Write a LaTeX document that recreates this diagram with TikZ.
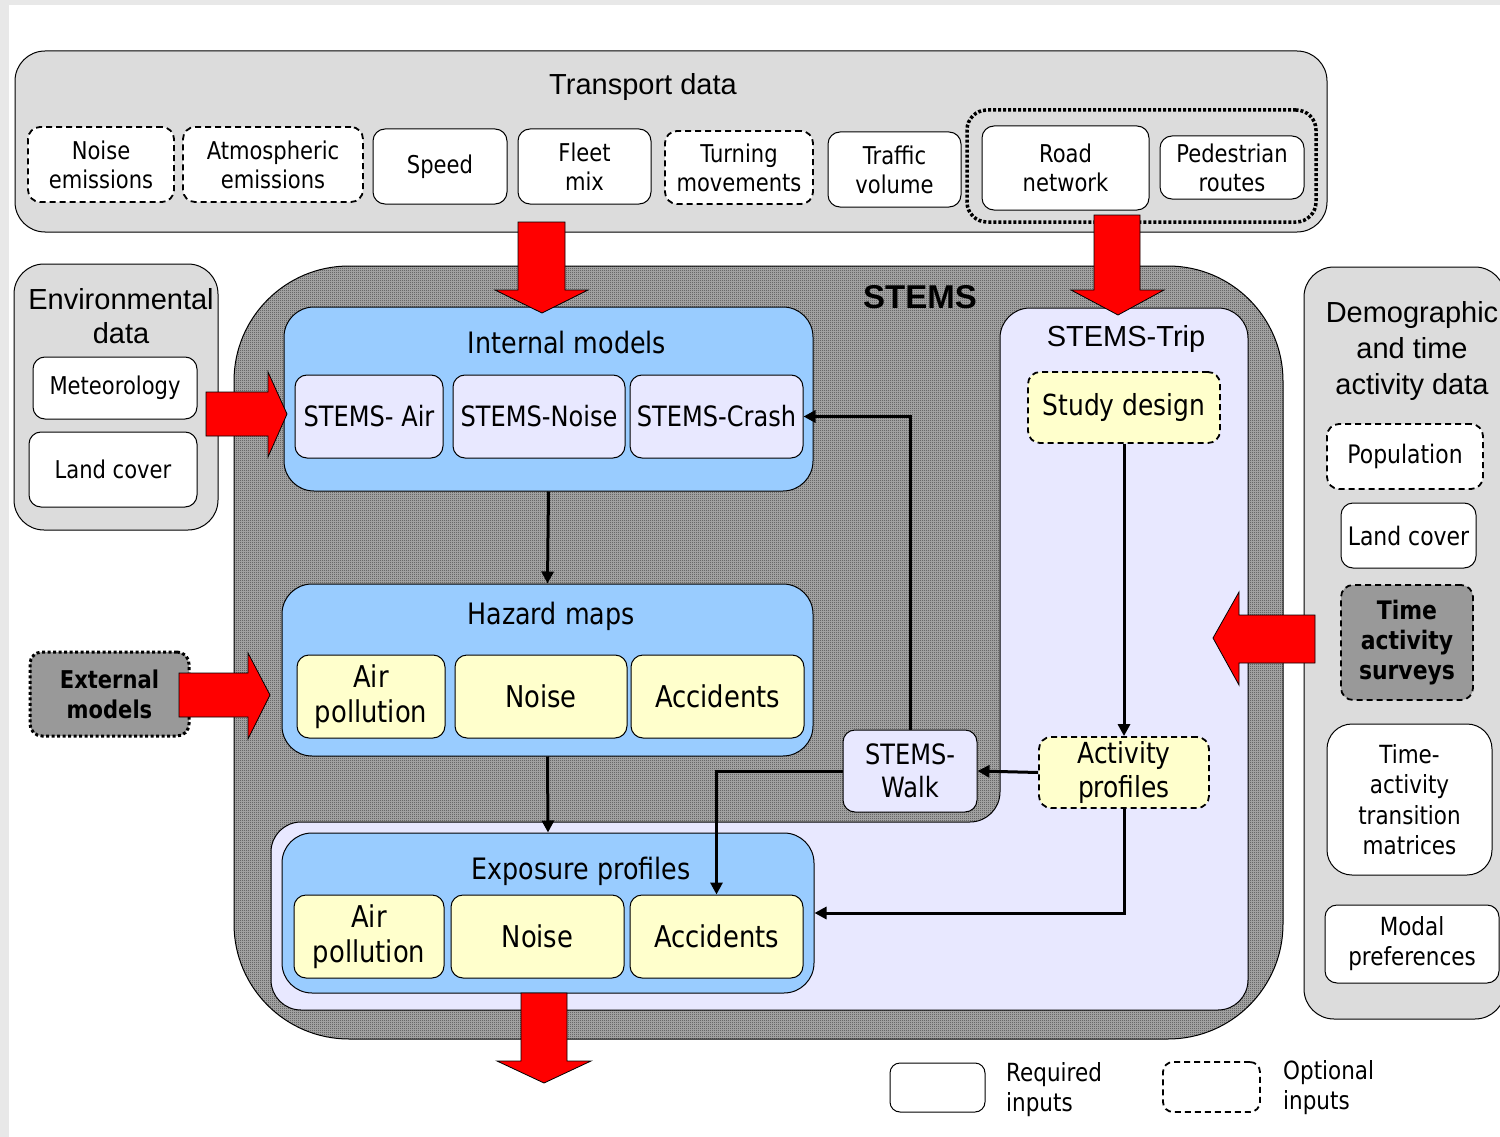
\documentclass[tikz,border=0pt]{standalone}
\usepackage{fontspec}
\setmainfont{Liberation Sans}
\newfontfamily\ari{Liberation Sans}
\newfontfamily\tah[FakeStretch=0.86]{DejaVu Sans}
\usetikzlibrary{arrows.meta,patterns.meta}
\definecolor{panelgray}{HTML}{DCDCDC}
\definecolor{stripc}{HTML}{E8E8E8}
\definecolor{bluec}{HTML}{99CCFF}
\definecolor{lavc}{HTML}{E8E8FF}
\definecolor{yelc}{HTML}{FFFFCC}
\definecolor{darkbox}{HTML}{999999}
\definecolor{hatchbg}{HTML}{B4B4B4}
\definecolor{hatchfg}{HTML}{1A1A1A}
\definecolor{redc}{HTML}{FF0000}
\newcommand{\myfs}[2]{\fontsize{#1}{#2}\selectfont}
\tikzdeclarepattern{
  name=checker,
  type=uncolored,
  bottom left={(0pt,0pt)},
  top right={(2pt,2pt)},
  tile size={(2pt,2pt)},
  code={
    \fill (0pt,0pt) rectangle (1pt,1pt);
    \fill (1pt,1pt) rectangle (2pt,2pt);
  }
}
\tikzset{
  base/.style={draw=black, line width=1pt, rounded corners=12pt, align=center, inner sep=0pt, text=black},
  reqbox/.style={base, fill=white, font=\tah\myfs{24.5}{29}},
  optbox/.style={reqbox, dash pattern=on 6pt off 4pt, line width=1.8pt},
  lavbox/.style={base, fill=lavc, font=\tah\myfs{28}{33}},
  yelbox/.style={base, fill=yelc, font=\tah\myfs{30}{35}},
  yeldash/.style={yelbox, dash pattern=on 6pt off 4pt, line width=1.8pt, font=\tah\myfs{29}{34}},
  grpbox/.style={draw=black, line width=1pt, rounded corners=30pt, fill=bluec, inner sep=0pt},
  panelbox/.style={draw=black, line width=1pt, rounded corners=30pt, fill=panelgray, inner sep=0pt},
  ttl/.style={font=\ari\myfs{29}{35}, align=center, inner sep=0pt},
  grpttl/.style={font=\tah\myfs{29.5}{34}, align=center, inner sep=0pt},
  conn/.style={line width=3pt, -{Triangle[length=12pt,width=12pt]}},
  redarr/.style={fill=redc, draw=black, line width=0.8pt, line join=miter},
}
\begin{document}
\begin{tikzpicture}[x=1pt,y=-1pt]
\useasboundingbox (0,0) rectangle (1500,1137);
\clip (0,0) rectangle (1500,1137);
\fill[white] (0,0) rectangle (1500,1137);
\fill[stripc] (0,0) rectangle (1500,5);
\fill[stripc] (0,0) rectangle (9,1137);

% ---------- STEMS outer hatched region ----------
\path[fill=hatchbg, rounded corners=115pt] (234,266) rectangle (1283,1039);
\path[pattern=checker, pattern color=hatchfg, rounded corners=115pt] (234,266) rectangle (1283,1039);
\draw[line width=1pt, rounded corners=115pt] (234,266) rectangle (1283,1039);
\node[font=\ari\bfseries\myfs{33}{38}, inner sep=0pt] (stemsttl) at (920,297) {STEMS};

% lavender STEMS-Trip L-shaped region
\draw[fill=lavc, line width=1pt, rounded corners=30pt]
  (1000,308) -- (1248,308) -- (1248,1010) -- (271,1010) -- (271,822) -- (1000,822) -- cycle;
\node[ttl] (tripttl) at (1126,339) {STEMS-Trip};

% ---------- Transport data ----------
\node[panelbox, minimum width=1312pt, minimum height=181pt] (transport) at (671,141.5) {};
\node[ttl] (transttl) at (643,87) {Transport data};
\node[draw=black, line width=3.5pt, dash pattern=on 3pt off 2pt, rounded corners=20pt,
      minimum width=349pt, minimum height=112pt, inner sep=0pt] (netgrp) at (1141.5,166) {};
\node[optbox, minimum width=146pt, minimum height=75pt] (ne) at (101,164.5) {Noise\\emissions};
\node[optbox, minimum width=180pt, minimum height=75pt] (ae) at (273,164.5) {Atmospheric\\emissions};
\node[reqbox, minimum width=134pt, minimum height=75pt] (sp) at (440,166.5) {Speed};
\node[reqbox, minimum width=133pt, minimum height=75pt] (fm) at (584.5,166.5) {Fleet\\mix};
\node[optbox, minimum width=148pt, minimum height=73pt] (tm) at (739,167.5) {Turning\\movements};
\node[reqbox, minimum width=133pt, minimum height=75pt] (tv) at (894.5,169.5) {Traffic\\volume};
\node[reqbox, minimum width=167pt, minimum height=84pt] (rn) at (1065.5,168) {Road\\network};
\node[reqbox, minimum width=144pt, minimum height=63pt] (pr) at (1232,167.5) {Pedestrian\\routes};

% ---------- Environmental data ----------
\node[panelbox, minimum width=204pt, minimum height=266pt] (env) at (116,397) {};
\node[ttl, font=\ari\myfs{29}{34}] (envttl) at (121,316) {Environmental\\data};
\node[reqbox, minimum width=164pt, minimum height=62pt] (met) at (115,388) {Meteorology};
\node[reqbox, minimum width=168pt, minimum height=75pt] (lcenv) at (113,469.5) {Land cover};

% ---------- External models ----------
\node[base, fill=darkbox, line width=3pt, dash pattern=on 3pt off 2.5pt,
      minimum width=159pt, minimum height=84pt, font=\tah\bfseries\myfs{24.5}{30}] (extm) at (109.5,694) {External\\models};

% ---------- Demographic data ----------
\node[panelbox, minimum width=201pt, minimum height=752pt] (demo) at (1404.5,643) {};
\node[ttl, font=\ari\myfs{29}{36}] (demottl) at (1412,351) {Demographic\\and time\\activity data};
\node[optbox, minimum width=156pt, minimum height=65pt, font=\tah\myfs{25.5}{30}] (pop) at (1405,456.5) {Population};
\node[reqbox, minimum width=135pt, minimum height=65pt, font=\tah\myfs{25.5}{30}] (lcdemo) at (1408.5,535.5) {Land cover};
\node[optbox, fill=darkbox, minimum width=132pt, minimum height=115pt, font=\tah\bfseries\myfs{25.5}{30}] (tas) at (1407,642.5) {Time\\activity\\surveys};
\node[reqbox, rounded corners=25pt, minimum width=165pt, minimum height=151pt, font=\tah\myfs{25}{30.5}] (tatm) at (1409.5,799.5) {Time-\\activity\\transition\\matrices};
\node[reqbox, minimum width=174pt, minimum height=78pt, font=\tah\myfs{25}{30}] (modal) at (1412,944) {Modal\\preferences};

% ---------- Internal models ----------
\node[grpbox, minimum width=529pt, minimum height=184pt] (intm) at (548.5,399) {};
\node[grpttl] (intmttl) at (567,343) {Internal models};
\node[lavbox, minimum width=148pt, minimum height=83pt] (sair) at (369,416.5) {STEMS- Air};
\node[lavbox, minimum width=172pt, minimum height=83pt] (snoise) at (539,416.5) {STEMS-Noise};
\node[lavbox, minimum width=173pt, minimum height=83pt] (scrash) at (716.5,416.5) {STEMS-Crash};

% ---------- Hazard maps ----------
\node[grpbox, minimum width=531pt, minimum height=172pt] (haz) at (547.5,670) {};
\node[grpttl] (hazttl) at (551,616) {Hazard maps};
\node[yelbox, minimum width=148pt, minimum height=83pt] (hair) at (371,696.5) {Air\\pollution};
\node[yelbox, minimum width=172pt, minimum height=83pt] (hnoise) at (541,696.5) {Noise};
\node[yelbox, minimum width=173pt, minimum height=83pt] (hacc) at (717.5,696.5) {Accidents};

% ---------- Exposure profiles ----------
\node[grpbox, minimum width=532pt, minimum height=160pt] (expo) at (548,913) {};
\node[grpttl] (expottl) at (581,871) {Exposure profiles};
\node[yelbox, minimum width=150pt, minimum height=83pt] (eair) at (369,936.5) {Air\\pollution};
\node[yelbox, minimum width=173pt, minimum height=83pt] (enoise) at (537.5,936.5) {Noise};
\node[yelbox, minimum width=173pt, minimum height=83pt] (eacc) at (716.5,936.5) {Accidents};

% ---------- STEMS-Trip contents ----------
\node[yeldash, minimum width=192pt, minimum height=71pt] (study) at (1124,407.5) {Study design};
\node[yeldash, minimum width=170pt, minimum height=71pt] (act) at (1124,772.5) {Activity\\profiles};
\node[lavbox, minimum width=134pt, minimum height=82pt] (walk) at (910,771) {STEMS-\\Walk};

% ---------- connectors ----------
\draw[conn] (intm.south) -- (haz.north);
\draw[conn] (haz.south) -- (expo.north);
\draw[conn] (walk.north) |- (scrash.east);
\draw[conn] (walk.west) -| (eacc.north);
\draw[conn] (act.west) -- (walk.east);
\draw[conn] (study.south) -- (act.north);
\draw[conn] (act.south) |- (expo.east);

% ---------- red block arrows ----------
\draw[redarr] (518,222) -- (565,222) -- (565,290) -- (588,290) -- (542,313) -- (495,290) -- (518,290) -- cycle;
\draw[redarr] (1094,215) -- (1140,215) -- (1140,290) -- (1164,290) -- (1118,315) -- (1071,290) -- (1094,290) -- cycle;
\draw[redarr] (206,392) -- (268,392) -- (268,372) -- (287,414) -- (268,457) -- (268,436) -- (206,436) -- cycle;
\draw[redarr] (179,673) -- (248,673) -- (248,653) -- (270,695) -- (248,739) -- (248,717) -- (179,717) -- cycle;
\draw[redarr] (1315,615) -- (1239,615) -- (1239,592) -- (1213,638) -- (1239,685) -- (1239,663) -- (1315,663) -- cycle;
\draw[redarr] (521,993) -- (567,993) -- (567,1061) -- (591,1061) -- (544,1083) -- (497,1061) -- (521,1061) -- cycle;

% ---------- legend ----------
\node[reqbox, rounded corners=10pt, minimum width=95pt, minimum height=49pt] (legreq) at (937.5,1087.5) {};
\node[anchor=west, align=left, inner sep=0pt, font=\tah\myfs{25}{30}] (legreqt) at (1006,1090) {Required\\inputs};
\node[optbox, rounded corners=10pt, minimum width=97pt, minimum height=50pt] (legopt) at (1211.5,1087) {};
\node[anchor=west, align=left, inner sep=0pt, font=\tah\myfs{25}{30}] (legoptt) at (1283,1088) {Optional\\inputs};
\end{tikzpicture}
\end{document}
